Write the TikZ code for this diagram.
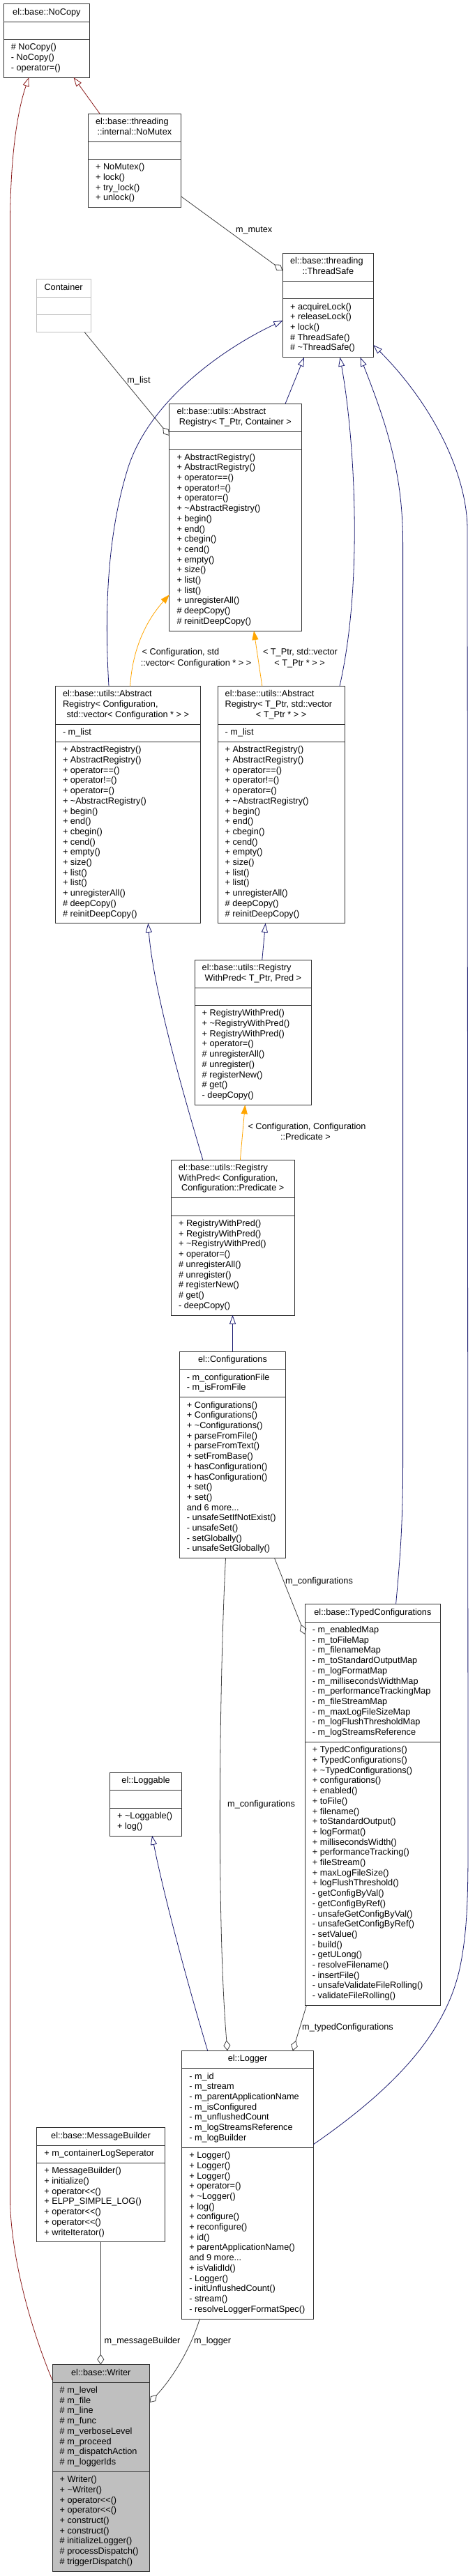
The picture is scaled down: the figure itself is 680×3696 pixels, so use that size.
\documentclass[tikz,border=0pt]{standalone}
\usepackage{fontspec}
\newfontfamily\dfont{Liberation Sans}
\usetikzlibrary{arrows.meta}
\definecolor{inhblue}{HTML}{191970}
\definecolor{privred}{HTML}{8B1A1A}
\definecolor{tplorange}{HTML}{FFA500}
\definecolor{usegray}{HTML}{404040}
\definecolor{litegray}{HTML}{BFBFBF}
\newcommand{\dsz}{\dfont\fontsize{12.7pt}{14.7pt}\selectfont}
\tikzset{
  classbox/.style={draw=black!80, line width=0.8pt, inner sep=0pt, outer sep=0pt, fill=white},
  graybox/.style={draw=litegray, line width=0.8pt, inner sep=0pt, outer sep=0pt, fill=white},
  writerbox/.style={draw=black!80, line width=0.8pt, inner sep=0pt, outer sep=0pt, fill=litegray},
  txt/.style={font=\dsz, inner sep=0pt, text=black},
  lbl/.style={font=\dsz, inner sep=0pt, text=black},
  inh/.style={draw=inhblue, line width=0.8pt, -{Triangle[open, length=13pt, width=9pt]}},
  privinh/.style={draw=privred, line width=0.8pt, -{Triangle[open, length=13pt, width=9pt]}},
  tpl/.style={draw=tplorange, line width=0.8pt, -{Triangle[length=13pt, width=9pt]}},
  usage/.style={draw=usegray, line width=0.8pt, -{Diamond[open, length=15pt, width=10pt]}},
}
% #1 name #2 left #3 top #4 right #5 title lines #6 attr lines #7 method lines #8 style
\newcommand{\umlclass}[8]{%
  \pgfmathsetmacro\bxhA{#5*14.7+10.6}%
  \pgfmathsetmacro\bxhB{max(#6,1)*14.7+10.6}%
  \pgfmathsetmacro\bxhC{max(#7,1)*14.7+10.6}%
  \pgfmathsetmacro\bxhAB{\bxhA+\bxhB}%
  \pgfmathsetmacro\bxhH{\bxhA+\bxhB+\bxhC}%
  \pgfmathsetmacro\bxwW{#4-#2}%
  \node[#8, minimum width=\bxwW pt, minimum height=\bxhH pt, anchor=north west] (#1) at (#2,#3) {};
  \draw[#8] ([yshift=-\bxhA pt]#1.north west) -- ([yshift=-\bxhA pt]#1.north east);
  \draw[#8] ([yshift=-\bxhAB pt]#1.north west) -- ([yshift=-\bxhAB pt]#1.north east);
  \xdef\bxL{#2}\xdef\bxR{#4}\xdef\bxT{#3}%
  \pgfmathsetmacro\bxtmp{#3+\bxhA}\xdef\bxS{\bxtmp}%
  \pgfmathsetmacro\bxtmp{#3+\bxhAB}\xdef\bxU{\bxtmp}%
}
\newcommand{\boxtitleone}[1]{\node[txt, anchor=base] at ({(\bxL+\bxR)/2}, {\bxT+15.5}) {#1};}
\newcommand{\boxtitletwo}[2]{\node[txt, anchor=base west] at (\bxL+10.5, \bxT+15.5) {#1};
  \node[txt, anchor=base] at ({(\bxL+\bxR)/2}, {\bxT+30.2}) {#2};}
\newcommand{\boxtitlethree}[3]{\node[txt, anchor=base west] at (\bxL+10.5, \bxT+15.5) {#1};
  \node[txt, anchor=base west] at (\bxL+10.5, \bxT+30.2) {#2};
  \node[txt, anchor=base] at ({(\bxL+\bxR)/2}, {\bxT+44.9}) {#3};}
\newcommand{\boxlines}[2]{%
  \foreach \t [count=\i from 0] in {#2} {\node[txt, anchor=base west] at (\bxL+10.5, #1+15.5+\i*14.7) {\t};}}
\newcommand{\arlines}{\boxlines{\bxU}{+ AbstractRegistry(), + AbstractRegistry(), + operator==(), + operator!=(), + operator=(), + \textasciitilde AbstractRegistry(), + begin(), + end(), + cbegin(), + cend(), + empty(), + size(), + list(), + list(), + unregisterAll(), \# deepCopy(), \# reinitDeepCopy()}}
\begin{document}
\begin{tikzpicture}[x=1pt,y=-1pt]
\fill[white] (0,0) rectangle (680,3696);
\useasboundingbox (0,0) rectangle (680,3696);

% ---------------- classes ----------------
\umlclass{nocopy}{5.2}{5.7}{128.6}{1}{0}{3}{classbox}
\boxtitleone{el::base::NoCopy}
\boxlines{\bxU}{\# NoCopy(), - NoCopy(), - operator=()}

\umlclass{nomutex}{126.4}{163}{259.4}{2}{0}{4}{classbox}
\boxtitletwo{el::base::threading}{::internal::NoMutex}
\boxlines{\bxU}{+ NoMutex(), + lock(), + try\_lock(), + unlock()}

\umlclass{threadsafe}{405.4}{363.3}{535.3}{2}{0}{5}{classbox}
\boxtitletwo{el::base::threading}{::ThreadSafe}
\boxlines{\bxU}{+ acquireLock(), + releaseLock(), + lock(), \# ThreadSafe(), \# \textasciitilde ThreadSafe()}

\umlclass{container}{52.3}{400.7}{129.9}{1}{0}{0}{graybox}
\boxtitleone{Container}

\umlclass{arcont}{242.8}{579.3}{432}{2}{0}{17}{classbox}
\boxtitletwo{el::base::utils::Abstract}{Registry< T\_Ptr, Container >}
\arlines

\umlclass{arcfg}{79.3}{984.3}{287.3}{3}{1}{17}{classbox}
\boxtitlethree{el::base::utils::Abstract}{Registry< Configuration,}{std::vector< Configuration * > >}
\boxlines{\bxS}{- m\_list}
\arlines

\umlclass{arptr}{312}{984.3}{494.3}{3}{1}{17}{classbox}
\boxtitlethree{el::base::utils::Abstract}{Registry< T\_Ptr, std::vector}{< T\_Ptr * > >}
\boxlines{\bxS}{- m\_list}
\arlines

\umlclass{rwpptr}{279}{1377}{446.8}{2}{0}{9}{classbox}
\boxtitletwo{el::base::utils::Registry}{WithPred< T\_Ptr, Pred >}
\boxlines{\bxU}{+ RegistryWithPred(), + \textasciitilde RegistryWithPred(), + RegistryWithPred(), + operator=(), \# unregisterAll(), \# unregister(), \# registerNew(), \# get(), - deepCopy()}

\umlclass{rwpcfg}{245.4}{1664}{422}{3}{0}{9}{classbox}
\boxtitlethree{el::base::utils::Registry}{WithPred< Configuration,}{Configuration::Predicate >}
\boxlines{\bxU}{+ RegistryWithPred(), + RegistryWithPred(), + \textasciitilde RegistryWithPred(), + operator=(), \# unregisterAll(), \# unregister(), \# registerNew(), \# get(), - deepCopy()}

\umlclass{configs}{257.2}{1939.3}{409.8}{1}{2}{15}{classbox}
\boxtitleone{el::Configurations}
\boxlines{\bxS}{- m\_configurationFile, - m\_isFromFile}
\boxlines{\bxU}{+ Configurations(), + Configurations(), + \textasciitilde Configurations(), + parseFromFile(), + parseFromText(), + setFromBase(), + hasConfiguration(), + hasConfiguration(), + set(), + set(), and 6 more.{}.{}., - unsafeSetIfNotExist(), - unsafeSet(), - setGlobally(), - unsafeSetGlobally()}

\umlclass{typedcfg}{437.2}{2301.7}{631.6}{1}{11}{25}{classbox}
\boxtitleone{el::base::TypedConfigurations}
\boxlines{\bxS}{- m\_enabledMap, - m\_toFileMap, - m\_filenameMap, - m\_toStandardOutputMap, - m\_logFormatMap, - m\_millisecondsWidthMap, - m\_performanceTrackingMap, - m\_fileStreamMap, - m\_maxLogFileSizeMap, - m\_logFlushThresholdMap, - m\_logStreamsReference}
\boxlines{\bxU}{+ TypedConfigurations(), + TypedConfigurations(), + \textasciitilde TypedConfigurations(), + configurations(), + enabled(), + toFile(), + filename(), + toStandardOutput(), + logFormat(), + millisecondsWidth(), + performanceTracking(), + fileStream(), + maxLogFileSize(), + logFlushThreshold(), - getConfigByVal(), - getConfigByRef(), - unsafeGetConfigByVal(), - unsafeGetConfigByRef(), - setValue(), - build(), - getULong(), - resolveFilename(), - insertFile(), - unsafeValidateFileRolling(), - validateFileRolling()}

\umlclass{loggable}{157.4}{2543.3}{260.7}{1}{0}{2}{classbox}
\boxtitleone{el::Loggable}
\boxlines{\bxU}{+ \textasciitilde Loggable(), + log()}

\umlclass{logger}{260.7}{2942.3}{449.4}{1}{7}{16}{classbox}
\boxtitleone{el::Logger}
\boxlines{\bxS}{- m\_id, - m\_stream, - m\_parentApplicationName, - m\_isConfigured, - m\_unflushedCount, - m\_logStreamsReference, - m\_logBuilder}
\boxlines{\bxU}{+ Logger(), + Logger(), + Logger(), + operator=(), + \textasciitilde Logger(), + log(), + configure(), + reconfigure(), + id(), + parentApplicationName(), and 9 more.{}.{}., + isValidId(), - Logger(), - initUnflushedCount(), - stream(), - resolveLoggerFormatSpec()}

\umlclass{msgbuilder}{52.7}{3052.7}{236.3}{1}{1}{7}{classbox}
\boxtitleone{el::base::MessageBuilder}
\boxlines{\bxS}{+ m\_containerLogSeperator}
\boxlines{\bxU}{+ MessageBuilder(), + initialize(), + operator<<(), + ELPP\_SIMPLE\_LOG(), + operator<<(), + operator<<(), + writeIterator()}

\umlclass{writer}{75}{3392.7}{214.5}{1}{8}{9}{writerbox}
\boxtitleone{el::base::Writer}
\boxlines{\bxS}{\# m\_level, \# m\_file, \# m\_line, \# m\_func, \# m\_verboseLevel, \# m\_proceed, \# m\_dispatchAction, \# m\_loggerIds}
\boxlines{\bxU}{+ Writer(), + \textasciitilde Writer(), + operator<<(), + operator<<(), + construct(), + construct(), \# initializeLogger(), \# processDispatch(), \# triggerDispatch()}

% ---------------- connectors ----------------
% private inheritance (NoCopy)
\draw[privinh] ([xshift=16.6pt]nomutex.north west) -- ([xshift=100.3pt]nocopy.south west);
\draw[privinh] ([yshift=-22.3pt]writer.north west) .. controls (40,3330) and (14.4,3230) .. (14.4,3150)
   -- (14.4,330) .. controls (14.4,210) and (28,150) .. ([xshift=36.2pt]nocopy.south west);

% usage: m_mutex, m_list
\draw[usage] ([yshift=-118.7pt]nomutex.north east) -- ([yshift=-25pt]threadsafe.north west);
\node[lbl, anchor=base west] (lmutex) at (337.8,333.8) {m\_mutex};
\draw[usage] ([xshift=68.9pt]container.south west) -- ([yshift=-45.7pt]arcont.north west);
\node[lbl, anchor=base west] (llist) at (182.2,549.5) {m\_list};

% inheritance to ThreadSafe
\draw[inh] ([xshift=166.2pt]arcont.north west) -- ([xshift=30.6pt]threadsafe.south west);
\draw[inh] ([xshift=76.7pt]arcfg.north west) .. controls (151,900) and (150,780) .. (183,673)
   .. controls (215,570) and (330,495) .. ([yshift=-96.7pt]threadsafe.north west);
\draw[inh] ([xshift=175pt]arptr.north west) .. controls (522,830) and (507,620) .. ([xshift=82pt]threadsafe.south west);
\draw[inh] ([xshift=130.4pt]typedcfg.north west) .. controls (572,2250) and (577.6,2200) .. (577.6,2100)
   -- (577.6,780) .. controls (577.6,680) and (555,610) .. ([xshift=111.2pt]threadsafe.south west);
\draw[inh] ([yshift=-134.4pt]logger.north east) .. controls (560,3000) and (640,2920) .. (660,2820)
   .. controls (672,2760) and (671,2700) .. (671,2600) -- (670,760)
   .. controls (670,680) and (620,580) .. ([yshift=-131.7pt]threadsafe.north east);

% template instances
\draw[tpl] ([xshift=107.3pt]arcfg.north west) .. controls (190,930) and (210,890) .. ([yshift=-274pt]arcont.north west);
\node[lbl, anchor=base west] (ltplA1) at (203.5,939.8) {< Configuration, std};
\node[lbl, anchor=base] (ltplA2) at (281,955.5) {::vector< Configuration * > >};
\draw[tpl] ([xshift=63.8pt]arptr.north west) -- ([xshift=121.2pt]arcont.south west);
\node[lbl, anchor=base] (ltplB1) at (430.5,939.8) {< T\_Ptr, std::vector};
\node[lbl, anchor=base] (ltplB2) at (429.5,955.5) {< T\_Ptr * > >};
\draw[tpl] ([xshift=99pt]rwpcfg.north west) -- ([xshift=72.4pt]rwpptr.south west);
\node[lbl, anchor=base west] (ltplC1) at (355.3,1620.5) {< Configuration, Configuration};
\node[lbl, anchor=base] (ltplC2) at (438,1635.5) {::Predicate >};

% registry inheritance
\draw[inh] ([xshift=96.8pt]rwpptr.north west) -- ([xshift=68.6pt]arptr.south west);
\draw[inh] ([xshift=45.4pt]rwpcfg.north west) .. controls (260,1560) and (220,1420) .. ([xshift=133pt]arcfg.south west);
\draw[inh] ([xshift=76.3pt]configs.north west) -- ([xshift=88.1pt]rwpcfg.south west);

% configurations usage
\draw[usage] ([xshift=66.3pt]configs.south west) .. controls (315,2400) and (310,2750) .. ([xshift=65.3pt]logger.north west);
\node[lbl, anchor=base west] (lcfgA) at (326,2592.5) {m\_configurations};
\draw[usage] ([xshift=136.4pt]configs.south west) -- ([yshift=-43.3pt]typedcfg.north west);
\node[lbl, anchor=base west] (lcfgB) at (409,2272.5) {m\_configurations};

% Logger -> Loggable
\draw[inh] ([xshift=37pt]logger.north west) .. controls (270,2850) and (235,2720) .. ([xshift=60.6pt]loggable.south west);

% typed configurations usage
\draw[usage] ([xshift=2.2pt]typedcfg.south west) -- ([xshift=159.1pt]logger.north west);
\node[lbl, anchor=base west] (ltyped) at (433,2912.5) {m\_typedConfigurations};

% Writer usages
\draw[usage] ([xshift=91.6pt]msgbuilder.south west) -- ([xshift=69.3pt]writer.north west);
\node[lbl, anchor=base west] (lmsg) at (149.5,3362.5) {m\_messageBuilder};
\draw[usage] ([xshift=25.7pt]logger.south west) .. controls (270,3380) and (240,3420) .. ([yshift=-54.3pt]writer.north east);
\node[lbl, anchor=base west] (llogger) at (278,3362.5) {m\_logger};
\end{tikzpicture}
\end{document}
